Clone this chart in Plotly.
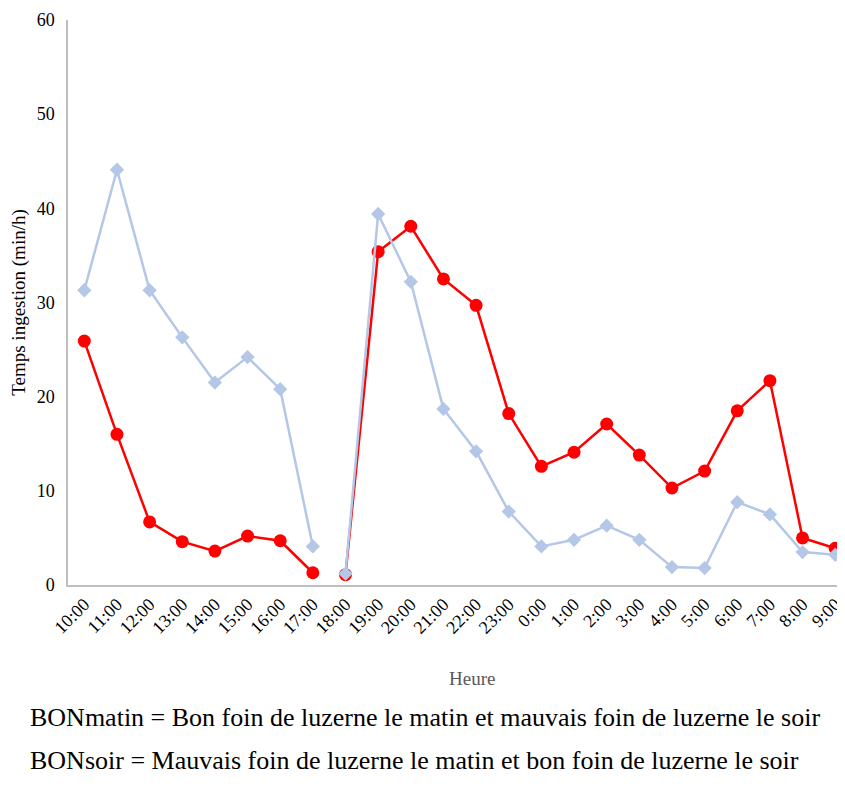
import plotly.graph_objects as go

# ── Data ──────────────────────────────────────────────────────────────────────
HOURS = [
    "10:00", "11:00", "12:00", "13:00", "14:00", "15:00", "16:00", "17:00",
    "18:00", "19:00", "20:00", "21:00", "22:00", "23:00", "0:00", "1:00",
    "2:00", "3:00", "4:00", "5:00", "6:00", "7:00", "8:00", "9:00",
]
BON_MATIN = [
    31.3, 44.1, 31.3, 26.3, 21.5, 24.2, 20.8, 4.1,
    1.2, 39.4, 32.2, 18.7, 14.2, 7.8, 4.1, 4.8,
    6.3, 4.8, 1.9, 1.8, 8.8, 7.5, 3.5, 3.2,
]
BON_SOIR = [
    25.9, 16.0, 6.7, 4.6, 3.6, 5.2, 4.7, 1.3,
    1.1, 35.4, 38.1, 32.5, 29.7, 18.2, 12.6, 14.1,
    17.1, 13.8, 10.3, 12.1, 18.5, 21.7, 5.0, 3.9,
]
SPLIT = 8  # line broken between 17:00 and 18:00

NOTE_MATIN = "BONmatin = Bon foin de luzerne le matin et mauvais foin de luzerne le soir"
NOTE_SOIR = "BONsoir = Mauvais foin de luzerne le matin et bon foin de luzerne le soir"

FONT = "Liberation Serif, Times New Roman, serif"

fig = go.Figure()


def add_series(name, values, color, symbol, size):
    for a, b in [(0, SPLIT), (SPLIT, len(HOURS))]:
        fig.add_trace(go.Scatter(
            x=HOURS[a:b], y=values[a:b], name=name,
            mode="lines+markers",
            line=dict(color=color, width=2.5),
            marker=dict(color=color, symbol=symbol, size=size),
            legendgroup=name, showlegend=False,
        ))


add_series("BONsoir", BON_SOIR, "#ff0000", "circle", 13)
add_series("BONmatin", BON_MATIN, "#b4c7e7", "diamond", 11)

fig.update_xaxes(
    type="category", categoryorder="array", categoryarray=HOURS,
    range=[-0.5, 23.3], automargin=False,
    showline=True, linecolor="#bfbfbf", linewidth=1.5,
    showgrid=False, zeroline=False, ticks="",
    tickangle=-45, tickfont=dict(family=FONT, size=18, color="#000000"),
)
fig.update_yaxes(
    range=[0, 60], dtick=10, automargin=False,
    showline=True, linecolor="#bfbfbf", linewidth=1.5,
    showgrid=False, zeroline=False, ticks="", ticklabelstandoff=8,
    tickfont=dict(family=FONT, size=18, color="#000000"),
)

# axis titles and notes (page body adds an 8px offset)
fig.add_annotation(
    text="Temps ingestion (min/h)", textangle=-90,
    xref="paper", yref="paper", x=-0.064, y=0.5,
    xanchor="center", yanchor="middle",
    showarrow=False, font=dict(family=FONT, size=19, color="#000000"),
)
fig.add_annotation(
    text="Heure", xref="paper", yref="paper",
    x=0.52, y=-0.165, xanchor="center", yanchor="middle", showarrow=False,
    font=dict(family=FONT, size=19, color="#595959"),
)
fig.add_annotation(
    text=NOTE_MATIN, xref="paper", yref="paper", xanchor="left", yanchor="middle",
    x=-0.0515, y=-0.235, showarrow=False,
    font=dict(family=FONT, size=26, color="#000000"),
)
fig.add_annotation(
    text=NOTE_SOIR, xref="paper", yref="paper", xanchor="left", yanchor="middle",
    x=-0.0515, y=-0.31, showarrow=False,
    font=dict(family=FONT, size=26, color="#000000"),
)

fig.update_layout(
    width=837, height=797,
    margin=dict(l=60, r=0, t=12, b=220),
    plot_bgcolor="white", paper_bgcolor="white",
    font=dict(family=FONT, color="#000000"),
)

fig.write_html("out.html")
